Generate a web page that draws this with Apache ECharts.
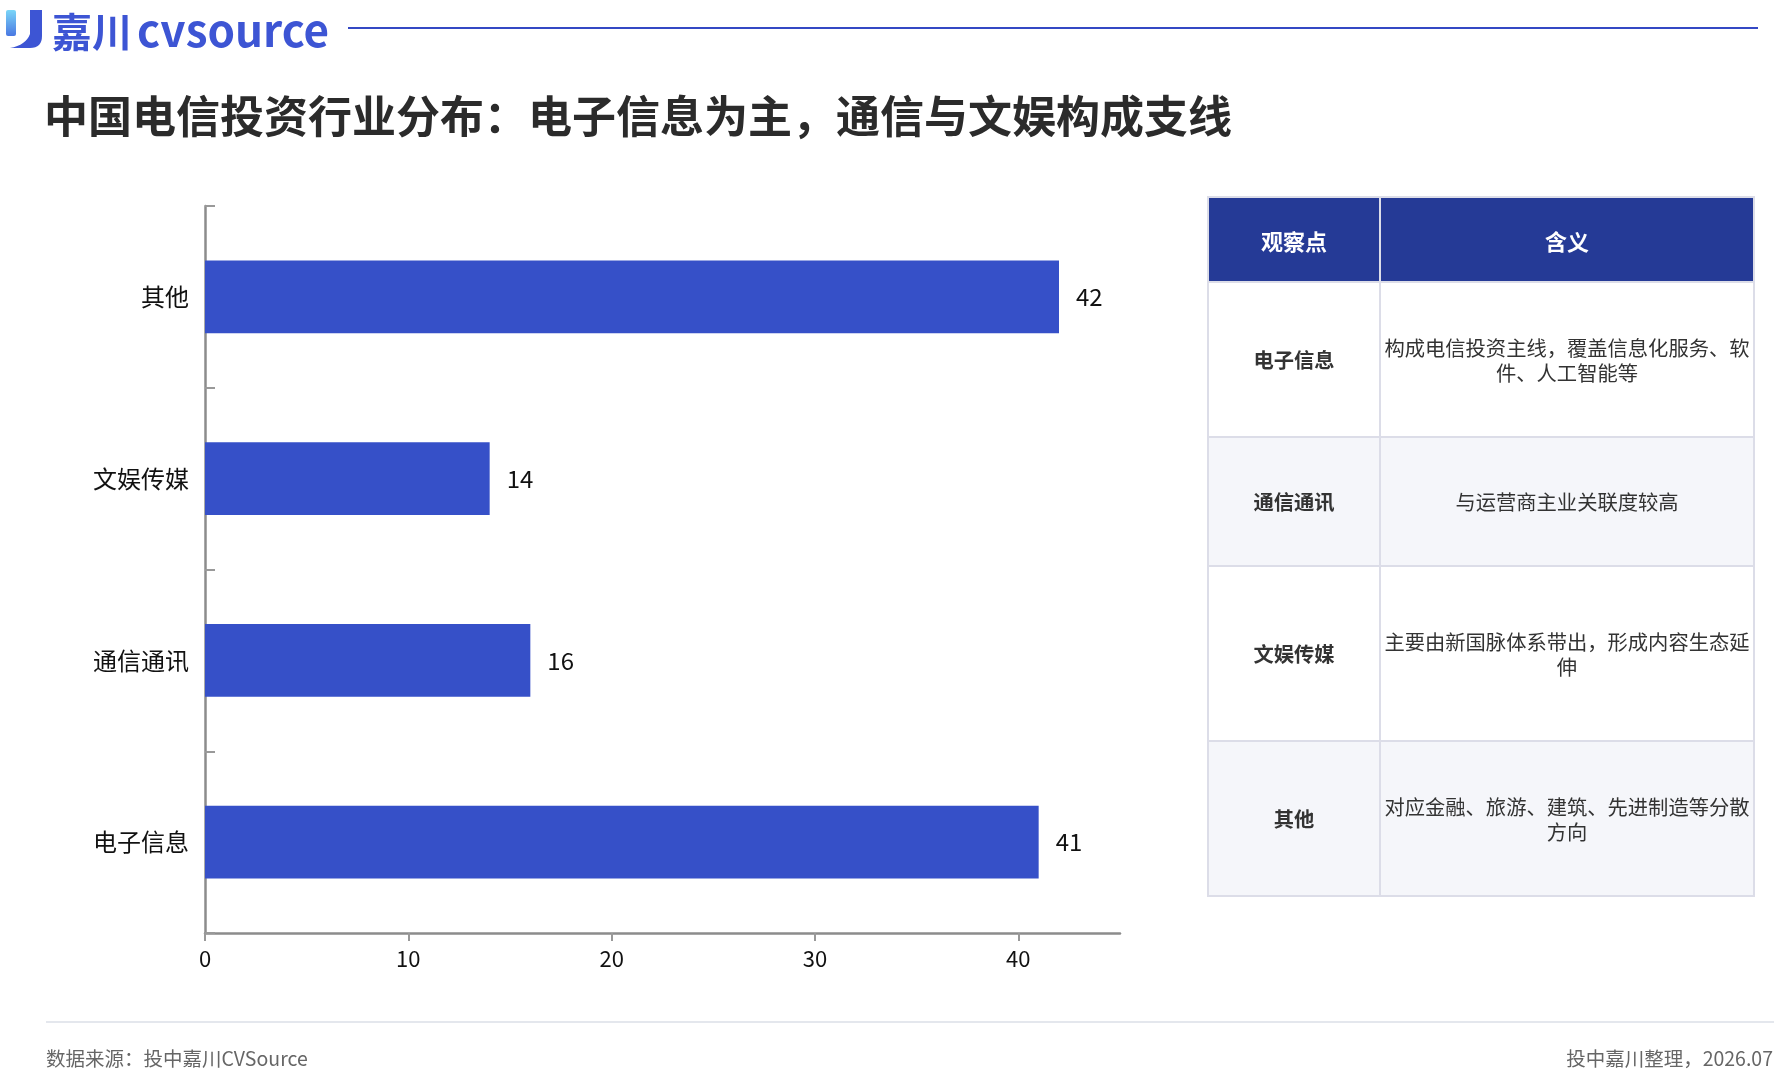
<!DOCTYPE html>
<html>
<head>
<meta charset="utf-8">
<title>中国电信投资行业分布</title>
<script src="https://cdn.jsdelivr.net/npm/echarts@6/dist/echarts.min.js"></script>
<style>
  html, body { margin: 0; padding: 0; background: #fff; }
  body { width: 1790px; height: 1080px; position: relative; overflow: hidden; font-family: "Noto Sans CJK SC", "Noto Sans", sans-serif; }
  #main { position: absolute; left: 0; top: 0; width: 1790px; height: 1080px; }
  .logo { position: absolute; left: 5px; top: 4px; height: 50px; display: flex; align-items: center; }
  .logo .word { color: #3d55d4; font-size: 40px; font-weight: 700; margin-left: 7px; line-height: 50px; }
  .logo .word .en { font-size: 44px; font-weight: 600; margin-left: 5px; }
  .topline { position: absolute; left: 348px; top: 27px; width: 1410px; height: 2px; background: #3448c4; }
  .title { position: absolute; left: 44px; top: 82px; font-size: 44px; font-weight: 700; color: #2b2b2b; }
  table.notes { position: absolute; left: 1207px; top: 196px; width: 546px; border-collapse: collapse; table-layout: fixed; }
  table.notes td, table.notes th { border: 2px solid #dcdde8; text-align: center; vertical-align: middle; padding: 0; }
  table.notes th { background: #253a96; color: #fff; font-size: 22px; font-weight: 700; height: 83px; }
  table.notes td { font-size: 20.3px; color: #333; line-height: 25px; }
  table.notes td.k { font-weight: 700; }
  table.notes tr.alt td { background: #f5f6fa; }
  .footline { position: absolute; left: 46px; top: 1021px; width: 1728px; height: 2px; background: #e4e7ed; }
  .src { position: absolute; left: 46px; top: 1043px; font-size: 19.5px; color: #666; }
  .by { position: absolute; right: 17px; top: 1043px; font-size: 19.5px; color: #666; }
</style>
</head>
<body>
<div id="main"></div>

<div class="logo">
  <svg width="40" height="42" viewBox="0 0 40 42">
    <defs>
      <linearGradient id="g1" x1="0" y1="0" x2="0" y2="1">
        <stop offset="0" stop-color="#7ad6f8"/>
        <stop offset="1" stop-color="#4a78e2"/>
      </linearGradient>
    </defs>
    <rect x="1" y="2" width="10" height="26" rx="2" fill="url(#g1)"/>
    <path d="M25 2 H37 V28 Q37 40 25 40 H5 Q21 37 25 26 Z" fill="#3d55d4"/>
  </svg>
  <div class="word">嘉川<span class="en">cvsource</span></div>
</div>
<div class="topline"></div>
<div class="title">中国电信投资行业分布：电子信息为主，通信与文娱构成支线</div>

<table class="notes">
  <colgroup><col style="width:172px"><col style="width:374px"></colgroup>
  <tr><th>观察点</th><th>含义</th></tr>
  <tr style="height:155px"><td class="k">电子信息</td><td>构成电信投资主线，覆盖信息化服务、软件、人工智能等</td></tr>
  <tr class="alt" style="height:129px"><td class="k">通信通讯</td><td>与运营商主业关联度较高</td></tr>
  <tr style="height:175px"><td class="k">文娱传媒</td><td>主要由新国脉体系带出，形成内容生态延伸</td></tr>
  <tr class="alt" style="height:155px"><td class="k">其他</td><td>对应金融、旅游、建筑、先进制造等分散方向</td></tr>
</table>

<div class="footline"></div>
<div class="src">数据来源：投中嘉川CVSource</div>
<div class="by">投中嘉川整理，2026.07</div>

<script>
// 数据
var categories = ['电子信息', '通信通讯', '文娱传媒', '其他'];
var dealCounts = [41, 16, 14, 42];
var xTickValues = [0, 10, 20, 30, 40];
var xMax = 45;

var myChart = echarts.init(document.getElementById('main'));

var option = {
  animation: false,
  textStyle: { fontFamily: 'Noto Sans CJK SC' },
  grid: { left: 205, top: 206, width: 915, height: 727, containLabel: false },
  xAxis: {
    type: 'value',
    min: 0,
    max: xMax,
    splitLine: { show: false },
    axisLine: { show: true, lineStyle: { color: '#8c8c8c', width: 2.5 } },
    axisTick: { show: true, length: 8, customValues: xTickValues, lineStyle: { color: '#999', width: 2 } },
    axisLabel: { customValues: xTickValues, color: '#111', fontSize: 22, margin: 15 }
  },
  yAxis: {
    type: 'category',
    data: categories,
    axisLine: { show: true, lineStyle: { color: '#8c8c8c', width: 2.5 } },
    axisTick: { show: true, inside: true, length: 10, lineStyle: { color: '#999', width: 2 } },
    axisLabel: { color: '#111', fontSize: 24, margin: 16 }
  },
  series: [{
    type: 'bar',
    data: dealCounts,
    barWidth: '40%',
    itemStyle: { color: '#3650c8' },
    label: { show: true, position: 'right', distance: 17, color: '#111', fontSize: 24 }
  }]
};

myChart.setOption(option);
</script>
</body>
</html>
